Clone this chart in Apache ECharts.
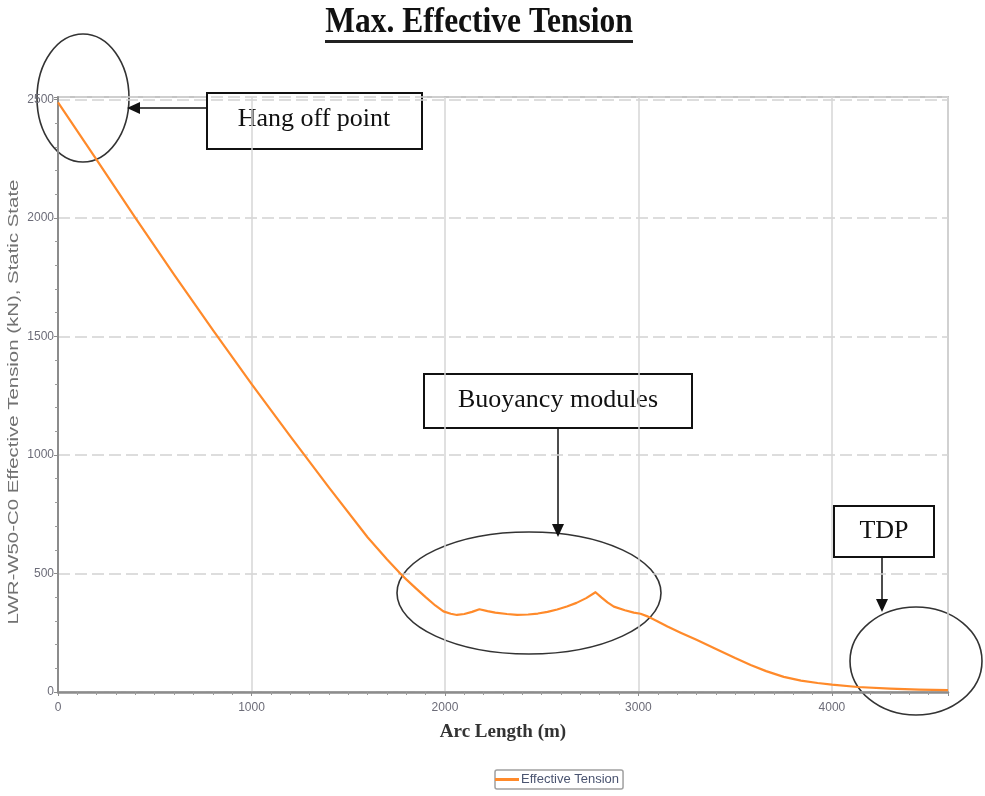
<!DOCTYPE html>
<html>
<head>
<meta charset="utf-8">
<script src="https://cdn.jsdelivr.net/npm/echarts@6/dist/echarts.min.js"></script>
<style>
  html, body { margin: 0; padding: 0; background: #ffffff; }
  #chart { width: 985px; height: 796px; }
</style>
</head>
<body>
<div id="chart"></div>
<script>
// Static-state effective tension along the riser arc length (m -> kN)
const arcLength = [0, 200, 400, 600, 800, 1000, 1200, 1400, 1600, 1700, 1769, 1800, 1850, 1900, 1950, 1992, 2030, 2062, 2100, 2140, 2178, 2220, 2260, 2320, 2373, 2430, 2480, 2530, 2580, 2630, 2680, 2730, 2778, 2810, 2840, 2873, 2930, 2976, 3011, 3050, 3100, 3150, 3218, 3300, 3409, 3500, 3580, 3660, 3751, 3840, 3926, 4000, 4133, 4300, 4450, 4600];
const tension   = [2487, 2245, 2000, 1761, 1528, 1300, 1079, 863, 653, 560, 500, 475, 437, 400, 365, 340, 330, 325, 329, 338, 349, 341, 335, 329, 325, 327, 331, 338, 348, 361, 376, 396, 421, 398, 378, 360, 345, 335, 330, 318, 297, 276, 250, 220, 178, 143, 114, 88, 64, 48, 38, 31, 21, 14, 10, 8];

const xTicks = [0, 1000, 2000, 3000, 4000];
const yTicks = [0, 500, 1000, 1500, 2000, 2500];

const chart = echarts.init(document.getElementById('chart'));

const labelStyle = { color: '#6c6c78', fontSize: 12, fontFamily: 'Arial, "Liberation Sans", sans-serif' };
const serif = '"Liberation Serif", "Times New Roman", serif';

chart.setOption({
  animation: false,
  backgroundColor: '#ffffff',
  grid: {
    left: 58, right: 37, top: 97, bottom: 104,
    show: true, borderColor: '#c4c4c4', borderWidth: 2
  },
  legend: {
    left: 495, top: 770,
    data: ['Effective Tension'],
    icon: 'rect',
    itemWidth: 24, itemHeight: 3, itemGap: 0,
    padding: [3, 4, 3, 0],
    borderColor: '#a0a0a0', borderWidth: 1.5, borderRadius: 2,
    textStyle: { color: '#4a5470', fontSize: 13, fontFamily: 'Arial, "Liberation Sans", sans-serif', padding: [0, 0, 0, -3] }
  },
  xAxis: {
    type: 'value', min: 0, max: 4600, interval: 1000,
    name: 'Arc Length (m)', nameLocation: 'middle', nameGap: 31,
    nameTextStyle: { fontFamily: serif, fontWeight: 'bold', fontSize: 19, color: '#333' },
    axisLine: { show: true, lineStyle: { color: '#8c8c8c', width: 2.5 } },
    axisTick: { show: true, length: 4, lineStyle: { color: '#8c8c8c' } },
    minorTick: { show: true, splitNumber: 10, length: 3, lineStyle: { color: '#9a9a9a' } },
    axisLabel: {
      ...labelStyle, margin: 10,
      formatter: v => xTicks.includes(v) ? String(v) : ''
    },
    splitLine: { show: true, lineStyle: { color: '#d6d6d6', width: 1.5 } }
  },
  yAxis: {
    type: 'value', min: 0, max: 2510, interval: 500,
    axisLine: { show: true, lineStyle: { color: '#8c8c8c', width: 2 } },
    axisTick: { show: true, length: 4, lineStyle: { color: '#8c8c8c' } },
    minorTick: { show: true, splitNumber: 5, length: 3, lineStyle: { color: '#9a9a9a' } },
    axisLabel: {
      ...labelStyle, margin: 4,
      formatter: v => yTicks.includes(v) ? String(v) : ''
    },
    splitLine: { show: true, lineStyle: { color: '#d2d2d2', width: 1.5, type: [12, 5] } }
  },
  series: [{
    name: 'Effective Tension',
    type: 'line',
    data: arcLength.map((s, i) => [s, tension[i]]),
    smooth: false,
    symbol: 'none',
    lineStyle: { color: '#ff8a2a', width: 2.2, join: 'round' },
    itemStyle: { color: '#ff8a2a' }
  }],
  graphic: [
    // title with underline (condensed bold serif)
    {
      type: 'text', x: 479, y: 23, scaleX: 0.875,
      style: {
        text: 'Max. Effective Tension',
        font: 'bold 36px ' + serif,
        fill: '#111', align: 'center', verticalAlign: 'middle'
      }
    },
    { type: 'rect', shape: { x: 325, y: 40, width: 308, height: 3 }, style: { fill: '#222' } },

    // y-axis title, stretched along its length
    {
      type: 'text', x: 14, y: 402, rotation: Math.PI / 2, scaleX: 1.36,
      style: {
        text: 'LWR-W50-C0 Effective Tension (kN), Static State',
        font: '15px Arial, "Liberation Sans", sans-serif',
        fill: '#727272', align: 'center', verticalAlign: 'middle'
      }
    },

    // hang-off annotation
    { type: 'ellipse', shape: { cx: 83, cy: 98, rx: 46, ry: 64 }, style: { fill: 'none', stroke: '#333', lineWidth: 1.6 } },
    { type: 'rect', shape: { x: 207, y: 93, width: 215, height: 56 }, style: { fill: '#fff', stroke: '#111', lineWidth: 2 } },
    { type: 'text', x: 314, y: 119, style: { text: 'Hang off point', font: '26px ' + serif, fill: '#111', align: 'center', verticalAlign: 'middle' } },
    { type: 'line', shape: { x1: 207, y1: 108, x2: 138, y2: 108 }, style: { stroke: '#111', lineWidth: 1.5 } },
    { type: 'polygon', shape: { points: [[127, 108], [140, 102], [140, 114]] }, style: { fill: '#111' } },

    // buoyancy modules annotation
    { type: 'ellipse', shape: { cx: 529, cy: 593, rx: 132, ry: 61 }, style: { fill: 'none', stroke: '#333', lineWidth: 1.6 } },
    { type: 'rect', shape: { x: 424, y: 374, width: 268, height: 54 }, style: { fill: '#fff', stroke: '#111', lineWidth: 2 } },
    { type: 'text', x: 558, y: 400, style: { text: 'Buoyancy modules', font: '26px ' + serif, fill: '#111', align: 'center', verticalAlign: 'middle' } },
    { type: 'line', shape: { x1: 558, y1: 428, x2: 558, y2: 526 }, style: { stroke: '#111', lineWidth: 1.5 } },
    { type: 'polygon', shape: { points: [[558, 537], [552, 524], [564, 524]] }, style: { fill: '#111' } },

    // touchdown point annotation
    { type: 'ellipse', shape: { cx: 916, cy: 661, rx: 66, ry: 54 }, style: { fill: 'none', stroke: '#333', lineWidth: 1.6 } },
    { type: 'rect', shape: { x: 834, y: 506, width: 100, height: 51 }, style: { fill: '#fff', stroke: '#111', lineWidth: 2 } },
    { type: 'text', x: 884, y: 531, style: { text: 'TDP', font: '26px ' + serif, fill: '#111', align: 'center', verticalAlign: 'middle' } },
    { type: 'line', shape: { x1: 882, y1: 557, x2: 882, y2: 601 }, style: { stroke: '#111', lineWidth: 1.5 } },
    { type: 'polygon', shape: { points: [[882, 612], [876, 599], [888, 599]] }, style: { fill: '#111' } }
  ]
});
</script>
</body>
</html>
